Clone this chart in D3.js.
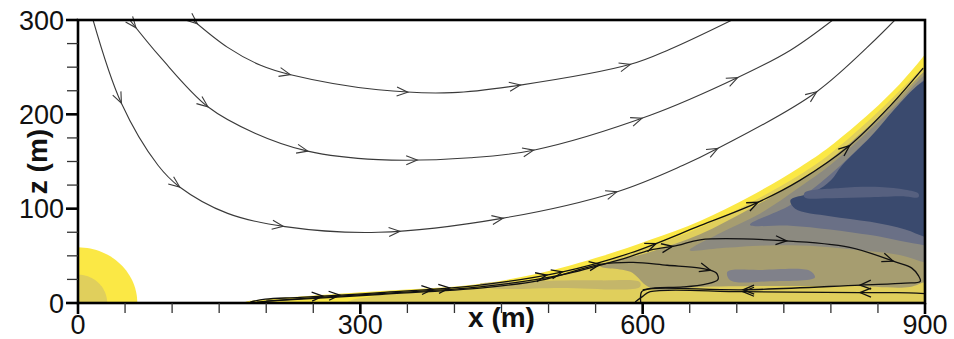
<!DOCTYPE html>
<html>
<head>
<meta charset="utf-8">
<script src="https://cdn.jsdelivr.net/npm/d3@7"></script>
<style>
body { margin: 0; background: #fff; }
svg text { font-family: "Liberation Sans", Arial, sans-serif; fill: #111; }
</style>
</head>
<body>
<svg id="chart" width="954" height="339"></svg>
<script>
// axis ticks and labels
const xMajor = [0, 300, 600, 900];
const xMinor = [50, 100, 150, 200, 250, 350, 400, 450, 500, 550, 650, 700, 750, 800, 850];
const yMajor = [0, 100, 200, 300];
const yMinor = [25, 50, 75, 125, 150, 175, 225, 250, 275];
const xTitle = "x (m)";
const yTitle = "z (m)";

// contour levels [x, z] in metres (points outside 0..900 only close the shape)
const yellowOuter = [[176,0],[188,3],[236,7],[310,12],[417,19],[488,31],[558,50],[608,67],[661,87],[714,113],[767,144],[799,166],[842,202],[873,232],[898,261],[920,290],[920,-15],[170,-15]];
const yellowInner = [[285,0],[312,7],[417,15],[488,25],[558,43],[608,60],[661,80],[714,106],[767,136],[799,158],[842,195],[873,225],[900,252],[920,272],[920,-15],[280,-15]];
const yellowStreak = [[427,20],[480,23],[555,24],[597,22],[597,17],[512,16],[438,16]];
const oliveLevel = [[555,39],[608,54],[661,73],[714,100],[767,130],[799,152],[842,189],[873,219],[900,246],[915,256],[915,20],[900,22],[884,17],[820,18],[661,17],[613,14],[603,19],[587,33]];
const oliveStreak = [[690,33],[725,35],[778,34],[783,27],[735,23],[693,24]];
const grayLevel = [[650,56],[682,74],[725,95],[767,123],[799,146],[842,184],[873,214],[900,242],[915,250],[915,40],[900,43],[873,51],[831,56],[788,60],[735,61],[682,58]];
const slateLevel = [[714,83],[757,104],[799,136],[842,176],[873,207],[900,238],[915,246],[915,58],[900,61],[873,66],[842,72],[799,78],[757,82]];
const navyLevel = [[812,146],[842,176],[868,206],[889,228],[900,236],[915,244],[915,66],[900,70],[879,78],[842,86],[799,92],[762,100],[757,109],[783,118],[800,130]];
const slateStreak = [[772,117],[810,122],[852,123],[879,120],[893,116],[893,112],[879,113],[842,112],[799,111],[772,112]];
// quarter disc at the origin: [radius in x, radius in z]
const discOuter = [63, 59];
const discInner = [31, 30];

// streamlines
const s1 = [[16,300],[46,212],[85,146],[108,123],[159,95],[220,81],[319,75],[452,90],[573,118],[643,146],[680,164],[785,224],[868,300]];
const s2 = [[55,300],[88,260],[138,208],[188,180],[244,161],[319,152],[417,154],[484,162],[608,199],[701,239],[757,268],[802,300]];
const s3 = [[122,300],[159,271],[194,252],[226,242],[319,226],[398,223],[470,231],[587,253],[629,269],[695,300]];
const l1 = [[183,1],[199,4],[236,6],[321,11],[427,19],[515,33],[587,53],[661,82],[723,107],[767,130],[820,167],[863,209],[898,249]];
const l2 = [[190,1],[240,5],[320,10],[427,17],[515,30],[576,46],[608,56],[637,61],[661,67],[751,66],[820,59],[870,43],[886,37],[893,29],[895,23],[879,21],[831,19],[707,14],[608,15],[599,12],[598,0]];
const l3 = [[200,2],[320,9],[430,16],[491,24],[555,41],[590,43],[626,40],[661,37],[678,32],[680,25],[667,20],[643,17],[613,16],[600,14]];
const l5 = [[900,10],[870,11],[831,11],[707,12],[608,12],[600,7],[592,1]];
// where the arrowheads sit on each streamline
const s1Arrows = [[46,212],[108,123],[218,81],[342,76],[452,90],[573,118],[680,164],[785,224]];
const s2Arrows = [[58,289],[138,208],[244,161],[360,151],[484,162],[600,194],[701,239]];
const s3Arrows = [[125,293],[226,242],[350,223],[470,231],[587,253]];
const l1Arrows = [[260,8],[278,10],[377,15],[395,16],[498,32],[515,34],[615,61],[723,107],[820,167]];
const l2Arrows = [[632,59],[753,66],[866,43],[831,19],[707,14]];
const l3Arrows = [[555,39],[672,36]];
const l5Arrows = [[831,11],[707,12]];

const x = d3.scaleLinear().domain([0, 900]).range([78, 925]);
const y = d3.scaleLinear().domain([0, 300]).range([303, 20]);

const svg = d3.select("#chart");
svg.append("defs").append("clipPath").attr("id", "plot")
  .append("rect")
  .attr("x", x(0)).attr("y", y(300))
  .attr("width", x(900) - x(0)).attr("height", y(0) - y(300));

const field = svg.append("g").attr("clip-path", "url(#plot)");

// filled contour levels
const contourPath = d3.line().x(d => x(d[0])).y(d => y(d[1])).curve(d3.curveCatmullRomClosed.alpha(0.5));
function disc(r) {
  const pts = [[0, 0]];
  for (let a = 0; a <= 90; a += 3) {
    const t = a * Math.PI / 180;
    pts.push([r[0] * Math.cos(t), r[1] * Math.sin(t)]);
  }
  return "M" + pts.map(p => x(p[0]) + "," + y(p[1])).join("L") + "Z";
}
field.append("path").attr("d", disc(discOuter)).attr("fill", "#fbe845");
field.append("path").attr("d", disc(discInner)).attr("fill", "#e0cf5c");

const levels = [
  [yellowOuter, "#fbe845"],
  [yellowInner, "#e0cf5c"],
  [yellowStreak, "#c4b66a"],
  [oliveLevel, "#a69d70"],
  [oliveStreak, "#80818a"],
  [grayLevel, "#8c8a80"],
  [slateLevel, "#6a7086"],
  [navyLevel, "#3a4a6e"],
  [slateStreak, "#56607f"]
];
levels.forEach(([pts, col]) => {
  field.append("path").attr("d", contourPath(pts)).attr("fill", col);
});

// streamlines with open arrowheads
const streamPath = d3.line().x(d => x(d[0])).y(d => y(d[1])).curve(d3.curveCatmullRom.alpha(0.5));
const lines = svg.append("g").attr("clip-path", "url(#plot)").attr("fill", "none");

function streamline(pts, arrows, color, width) {
  const path = lines.append("path").attr("d", streamPath(pts))
    .attr("stroke", color).attr("stroke-width", width);
  const node = path.node();
  const len = node.getTotalLength();
  const samples = [];
  for (let s = 0; s <= len; s += 1) samples.push([s, node.getPointAtLength(s)]);
  arrows.forEach(a => {
    const ax = x(a[0]), ay = y(a[1]);
    let best = 0, bd = Infinity;
    samples.forEach(([s, q]) => {
      const d = (q.x - ax) ** 2 + (q.y - ay) ** 2;
      if (d < bd) { bd = d; best = s; }
    });
    const p0 = node.getPointAtLength(Math.max(0, best - 2));
    const p1 = node.getPointAtLength(Math.min(len, best + 2));
    const tip = node.getPointAtLength(best);
    let ux = p1.x - p0.x, uy = p1.y - p0.y;
    const n = Math.hypot(ux, uy) || 1;
    ux /= n; uy /= n;
    const L = 11, w = 4.5;
    const bx = tip.x - L * ux, by = tip.y - L * uy;
    svg.append("path")
      .attr("d", `M${bx - w * uy},${by + w * ux}L${tip.x},${tip.y}L${bx + w * uy},${by - w * ux}`)
      .attr("fill", "none").attr("stroke", color).attr("stroke-width", width);
  });
}

streamline(s1, s1Arrows, "#3a3a3a", 1.1);
streamline(s2, s2Arrows, "#3a3a3a", 1.1);
streamline(s3, s3Arrows, "#3a3a3a", 1.1);
streamline(l1, l1Arrows, "#111", 1.3);
streamline(l2, l2Arrows, "#111", 1.3);
streamline(l3, l3Arrows, "#111", 1.3);
streamline(l5, l5Arrows, "#111", 1.3);

// frame
svg.append("rect")
  .attr("x", x(0)).attr("y", y(300))
  .attr("width", x(900) - x(0)).attr("height", y(0) - y(300))
  .attr("fill", "none").attr("stroke", "#000").attr("stroke-width", 2.6);

// ticks
const ticks = svg.append("g").attr("stroke", "#000");
xMinor.forEach(v => ticks.append("line").attr("x1", x(v)).attr("x2", x(v)).attr("y1", y(0)).attr("y2", y(0) + 10).attr("stroke-width", 1.3).attr("stroke", "#333"));
xMajor.forEach(v => ticks.append("line").attr("x1", x(v)).attr("x2", x(v)).attr("y1", y(0)).attr("y2", y(0) + 11).attr("stroke-width", 2.6));
yMinor.forEach(v => ticks.append("line").attr("y1", y(v)).attr("y2", y(v)).attr("x1", x(0)).attr("x2", x(0) - 11).attr("stroke-width", 1.3).attr("stroke", "#333"));
yMajor.forEach(v => ticks.append("line").attr("y1", y(v)).attr("y2", y(v)).attr("x1", x(0)).attr("x2", x(0) - 12).attr("stroke-width", 2.6));

// tick labels
svg.selectAll("text.xl").data(xMajor).join("text").attr("class", "xl")
  .attr("x", d => x(d)).attr("y", 334)
  .attr("text-anchor", "middle").attr("font-size", 27)
  .text(d => d);
svg.selectAll("text.yl").data(yMajor).join("text").attr("class", "yl")
  .attr("x", 64).attr("y", d => y(d)).attr("dy", "0.36em")
  .attr("text-anchor", "end").attr("font-size", 27)
  .text(d => d);

// axis titles
svg.append("text")
  .attr("x", (x(0) + x(900)) / 2).attr("y", 327)
  .attr("text-anchor", "middle").attr("font-size", 28).attr("font-weight", "bold")
  .text(xTitle);
svg.append("text")
  .attr("transform", `translate(47,${(y(0) + y(300)) / 2}) rotate(-90)`)
  .attr("text-anchor", "middle").attr("font-size", 28).attr("font-weight", "bold")
  .text(yTitle);
</script>
</body>
</html>
